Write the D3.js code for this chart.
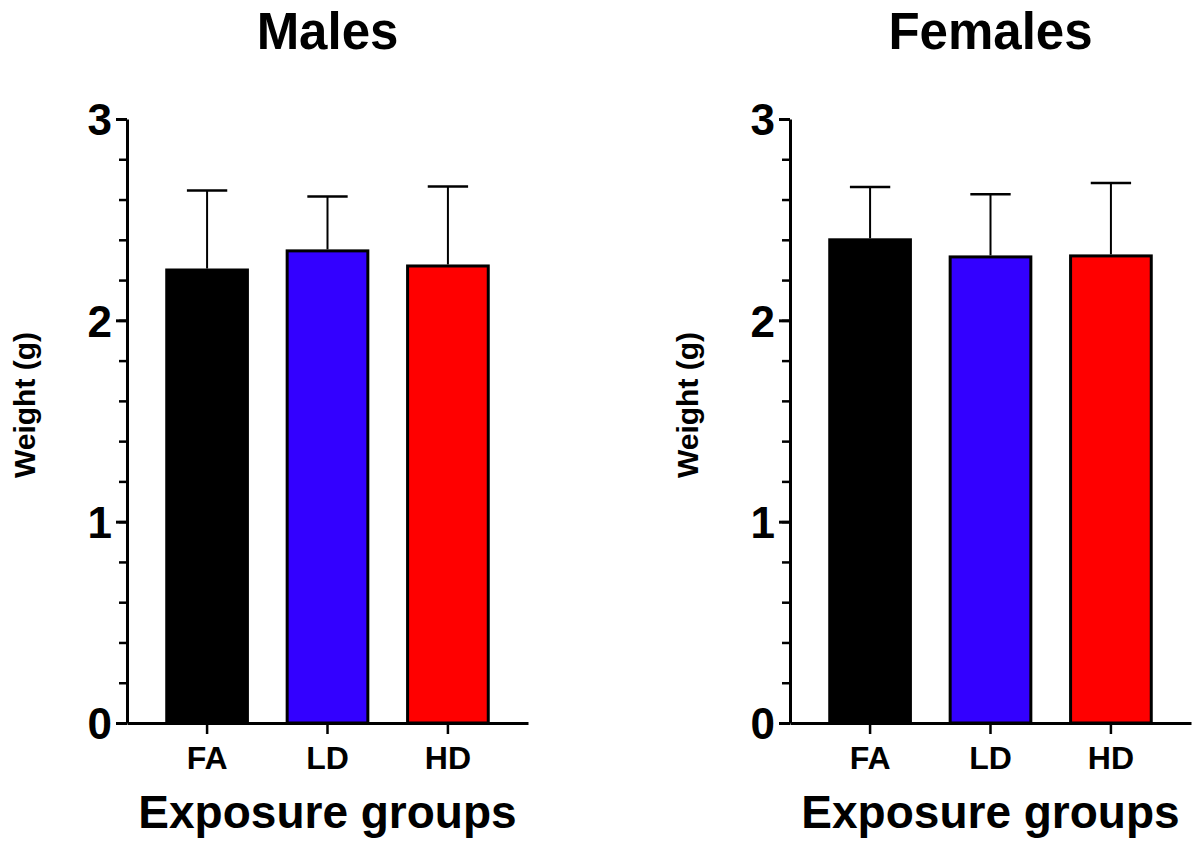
<!DOCTYPE html>
<html>
<head>
<meta charset="utf-8">
<script src="https://cdn.jsdelivr.net/npm/d3@7"></script>
<style>
  body { margin: 0; background: #fff; }
  text { font-family: "Liberation Sans", Arial, sans-serif; font-weight: bold; fill: #000; }
</style>
</head>
<body>
<svg id="chart" width="1196" height="841"></svg>
<script>
const categories = ["FA", "LD", "HD"];
const colors = ["#000000", "#3300FF", "#FF0000"];
const panelTitles = ["Males", "Females"];
const malesMean = [2.25, 2.345, 2.27];
const malesErr = [0.395, 0.27, 0.395];
const femalesMean = [2.40, 2.315, 2.32];
const femalesErr = [0.262, 0.311, 0.362];
const yTicks = [0, 1, 2, 3];
const yMinorTicks = d3.range(0, 3.01, 0.2);
const yLabel = "Weight (g)";
const xLabel = "Exposure groups";

const panels = [
  { title: panelTitles[0], mean: malesMean, err: malesErr, x0: 127, x1: 528 },
  { title: panelTitles[1], mean: femalesMean, err: femalesErr, x0: 790, x1: 1191 }
];

const svg = d3.select("#chart");
const y = d3.scaleLinear().domain([0, 3]).range([723, 119]);

panels.forEach(p => {
  const g = svg.append("g");
  const x = d3.scaleBand().domain(categories).range([p.x0, p.x1]).padding(0.33);

  // bars
  g.selectAll("rect.bar").data(categories).enter().append("rect")
    .attr("x", d => x(d))
    .attr("width", x.bandwidth())
    .attr("y", (d, i) => y(p.mean[i]))
    .attr("height", (d, i) => y(0) - y(p.mean[i]))
    .attr("fill", (d, i) => colors[i])
    .attr("stroke", "#000")
    .attr("stroke-width", 3);

  // error bars (upper only)
  g.selectAll("line.err").data(categories).enter().append("line")
    .attr("x1", d => x(d) + x.bandwidth() / 2)
    .attr("x2", d => x(d) + x.bandwidth() / 2)
    .attr("y1", (d, i) => y(p.mean[i]) - 1.5)
    .attr("y2", (d, i) => y(p.mean[i] + p.err[i]))
    .attr("stroke", "#000").attr("stroke-width", 2);
  g.selectAll("line.cap").data(categories).enter().append("line")
    .attr("x1", d => x(d) + x.bandwidth() / 4)
    .attr("x2", d => x(d) + x.bandwidth() * 3 / 4)
    .attr("y1", (d, i) => y(p.mean[i] + p.err[i]))
    .attr("y2", (d, i) => y(p.mean[i] + p.err[i]))
    .attr("stroke", "#000").attr("stroke-width", 2.5);

  // y axis minor ticks
  const yMinor = g.append("g").attr("transform", `translate(${p.x0},0)`)
    .call(d3.axisLeft(y).tickValues(yMinorTicks).tickSize(8).tickFormat(""));
  yMinor.select(".domain").remove();
  yMinor.selectAll(".tick line").attr("stroke", "#000").attr("stroke-width", 2.5);

  // y axis major
  const yAx = g.append("g").attr("transform", `translate(${p.x0},0)`)
    .call(d3.axisLeft(y).tickValues(yTicks).tickSize(11).tickSizeOuter(0).tickPadding(4).tickFormat(d3.format("d")));
  yAx.select(".domain").attr("stroke", "#000").attr("stroke-width", 3);
  yAx.selectAll(".tick line").attr("stroke", "#000").attr("stroke-width", 3);
  yAx.selectAll(".tick text").style("font-size", "44px").attr("dy", "0.36em");

  // x axis
  const xAx = g.append("g").attr("transform", `translate(0,${y(0)})`)
    .call(d3.axisBottom(x).tickSize(11).tickSizeOuter(0).tickPadding(12));
  xAx.select(".domain").attr("stroke", "#000").attr("stroke-width", 3);
  xAx.selectAll(".tick line").attr("stroke", "#000").attr("stroke-width", 2.5);
  xAx.selectAll(".tick text").style("font-size", "32px").attr("dy", "0.72em");

  // titles
  const cx = (p.x0 + p.x1) / 2;
  g.append("text").attr("x", cx).attr("y", 49).attr("text-anchor", "middle")
    .style("font-size", "51px").text(p.title);
  g.append("text").attr("x", cx).attr("y", 828).attr("text-anchor", "middle")
    .style("font-size", "46px").text(xLabel);
  g.append("text")
    .attr("transform", `translate(${p.x0 - 92},405) rotate(-90)`)
    .attr("text-anchor", "middle")
    .style("font-size", "30px").text(yLabel);
});
</script>
</body>
</html>
